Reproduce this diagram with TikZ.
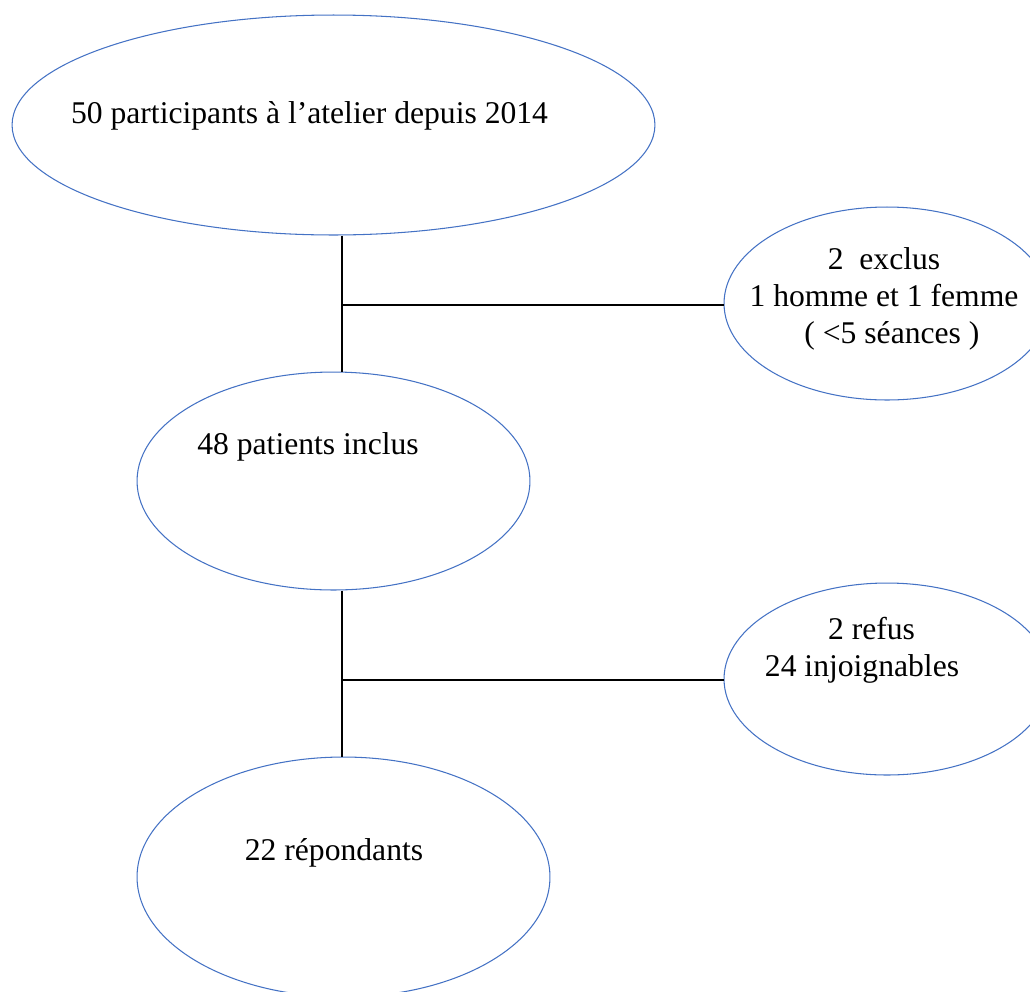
\documentclass[tikz,border=0pt]{standalone}
\usepackage{fontspec}
\setmainfont{Liberation Serif}
\usepackage{tikz}
\usetikzlibrary{shapes.geometric}
\definecolor{bleu}{RGB}{68,114,196}

\begin{document}
\begin{tikzpicture}[x=0.02cm,y=-0.02cm]
		\tikzstyle{every node}=[font=\fontsize{18}{21}\selectfont]
		\tikzstyle{bulle}=[ellipse,draw=bleu,line width=0.6pt,inner sep=0pt]
		\tikzstyle{texte}=[anchor=base,align=center,inner sep=0pt]
		\useasboundingbox (0,0) rectangle (1030,991);

		% ellipses
		\node[bulle,minimum width=12.86cm,minimum height=4.4cm] (Participants) at (333.5,125) {};
		\node[bulle,minimum width=7.86cm,minimum height=4.36cm] (Inclus) at (333.5,481) {};
		\node[bulle,minimum width=8.26cm,minimum height=4.8cm] (Repondants) at (343.5,877) {};
		\node[bulle,minimum width=6.52cm,minimum height=3.86cm] (Exclus) at (887,303.5) {};
		\node[bulle,minimum width=6.52cm,minimum height=3.84cm] (Refus) at (887,679) {};

		% textes (base = derniere ligne)
		\node[texte] (T_{Participants}) at (309.5,123) {50 participants à l’atelier depuis 2014};
		\node[texte] (T_{Inclus}) at (308,454) {48 patients inclus};
		\node[texte] (T_{Repondants}) at (334,860) {22 répondants};
		\node[texte] (T_{Exclus}) at (884,343) {2~~exclus\hspace{0.95em}\\1 homme et 1 femme\\\hspace{0.5em}( <5 séances )};
		\node[texte] (T_{Refus}) at (862,676) {\hspace{0.6em}2 refus\\24 injoignables};

		\coordinate (J_{1}) at (342,305);
		\coordinate (J_{2}) at (342,680);

		\path[draw,line width=0.6pt]
			(J_{1} |- Participants.south) edge (J_{1} |- Inclus.north)
			(J_{1}) edge (J_{1} -| Exclus.west)
			(J_{2} |- Inclus.south) edge (J_{2} |- Repondants.north)
			(J_{2}) edge (J_{2} -| Refus.west);
	\end{tikzpicture}
\end{document}
